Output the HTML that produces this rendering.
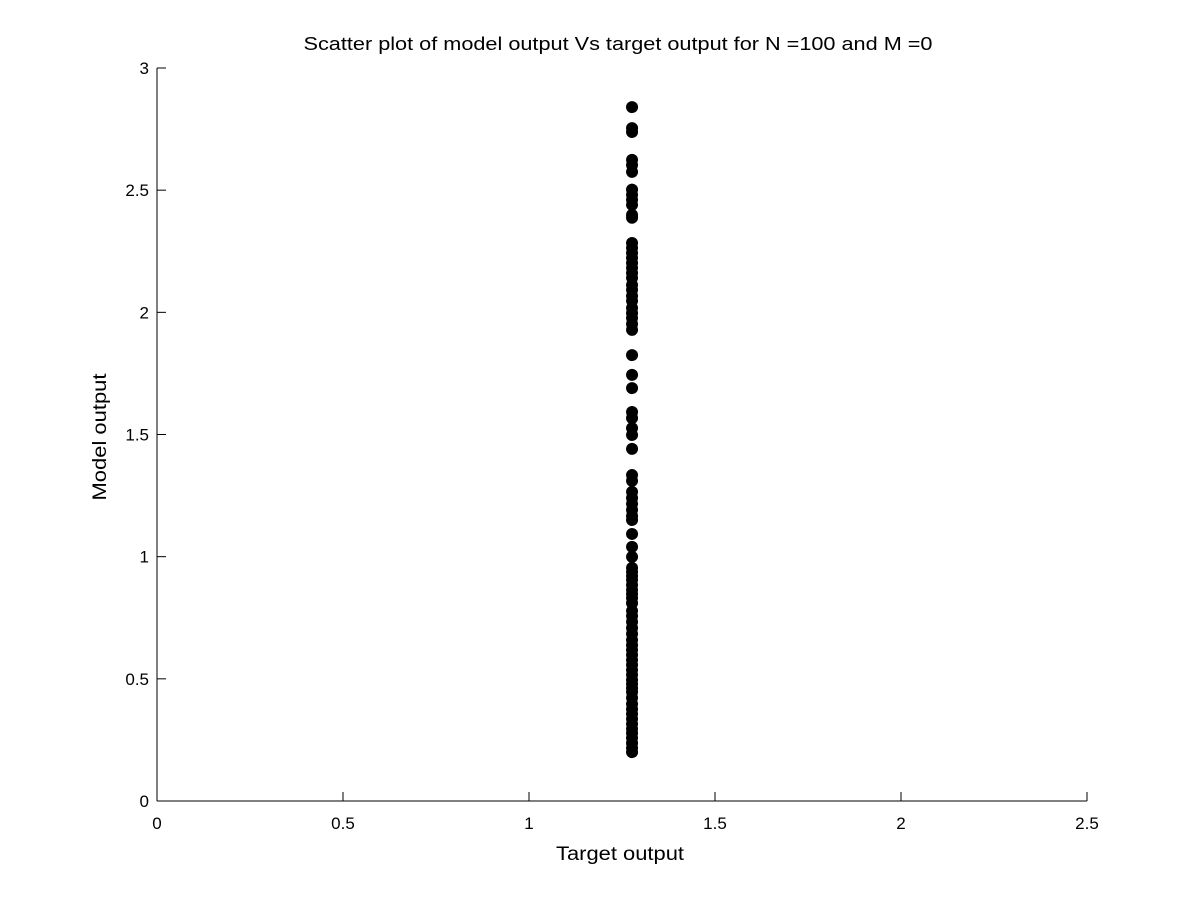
<!DOCTYPE html>
<html><head><meta charset="utf-8"><style>
body{margin:0;background:#fff;}
svg text{font-family:"Liberation Sans",sans-serif;fill:#000;}
</style></head><body>
<svg id="chart" width="1200" height="901" xmlns="http://www.w3.org/2000/svg">
<rect width="1200" height="901" fill="#fff"/>
<text x="618" y="50" font-size="18" text-anchor="middle" textLength="629" lengthAdjust="spacingAndGlyphs">Scatter plot of model output Vs target output for N =100 and M =0</text>
<text x="620" y="860" font-size="19" text-anchor="middle" textLength="128" lengthAdjust="spacingAndGlyphs">Target output</text>
<text transform="translate(106,437) rotate(-90)" font-size="19" text-anchor="middle" textLength="127" lengthAdjust="spacingAndGlyphs">Model output</text>
<g id="axes"></g>
<g id="points"></g>
</svg>
<script>
const xTicks=[0,0.5,1,1.5,2,2.5];
const yTicks=[0,0.5,1,1.5,2,2.5,3];
const xTickLabels=["0","0.5","1","1.5","2","2.5"];
const yTickLabels=["0","0.5","1","1.5","2","2.5","3"];
const targetValue=1.277;
const modelValues=[2.840,2.754,2.738,2.624,2.603,2.575,2.502,2.481,2.461,2.440,2.399,2.387,2.284,2.264,2.243,2.223,2.202,2.182,2.161,2.141,2.112,2.092,2.067,2.047,2.018,1.997,1.977,1.952,1.928,1.825,1.744,1.690,1.592,1.567,1.526,1.498,1.441,1.334,1.310,1.265,1.240,1.216,1.191,1.166,1.150,1.093,1.040,0.999,0.954,0.938,0.921,0.905,0.884,0.864,0.847,0.831,0.810,0.778,0.757,0.733,0.708,0.684,0.659,0.638,0.618,0.598,0.577,0.557,0.536,0.516,0.495,0.479,0.462,0.446,0.422,0.397,0.376,0.356,0.336,0.315,0.295,0.278,0.258,0.237,0.217,0.200];
const NS="http://www.w3.org/2000/svg";
const L=157,R=1087,T=68,B=801;
const xs=v=>L+(v-0)/(2.5-0)*(R-L);
const ys=v=>B-(v-0)/(3-0)*(B-T);
const axes=document.getElementById('axes');
function mk(tag,a){const e=document.createElementNS(NS,tag);for(const k in a)e.setAttribute(k,a[k]);return e;}
const xl=mk('line',{x1:L,y1:B,x2:R,y2:B,stroke:'#000','stroke-width':1});


axes.appendChild(xl);
const yl=mk('line',{x1:L,y1:T,x2:L,y2:B,stroke:'#000','stroke-width':1});


axes.appendChild(yl);
xTicks.forEach((v,i)=>{
  const x=xs(v);
  const t=mk('line',{x1:x,y1:B,x2:x,y2:B-9,stroke:'#000'});
  
  
  axes.appendChild(t);
  const tx=mk('text',{x:x,y:B+28,'font-size':17,'text-anchor':'middle'});
  tx.textContent=xTickLabels[i];
  
  
  axes.appendChild(tx);
});
yTicks.forEach((v,i)=>{
  const y=ys(v);
  const t=mk('line',{x1:L,y1:y,x2:L+9,y2:y,stroke:'#000'});
  
  
  axes.appendChild(t);
  const tx=mk('text',{x:L-8,y:y+6,'font-size':17,'text-anchor':'end'});
  tx.textContent=yTickLabels[i];
  
  
  axes.appendChild(tx);
});
const pts=document.getElementById('points');
modelValues.forEach(v=>{
  const c=mk('circle',{cx:xs(targetValue),cy:ys(v),r:6,fill:'#000'});
  
  
  pts.appendChild(c);
});
</script>
</body></html>
